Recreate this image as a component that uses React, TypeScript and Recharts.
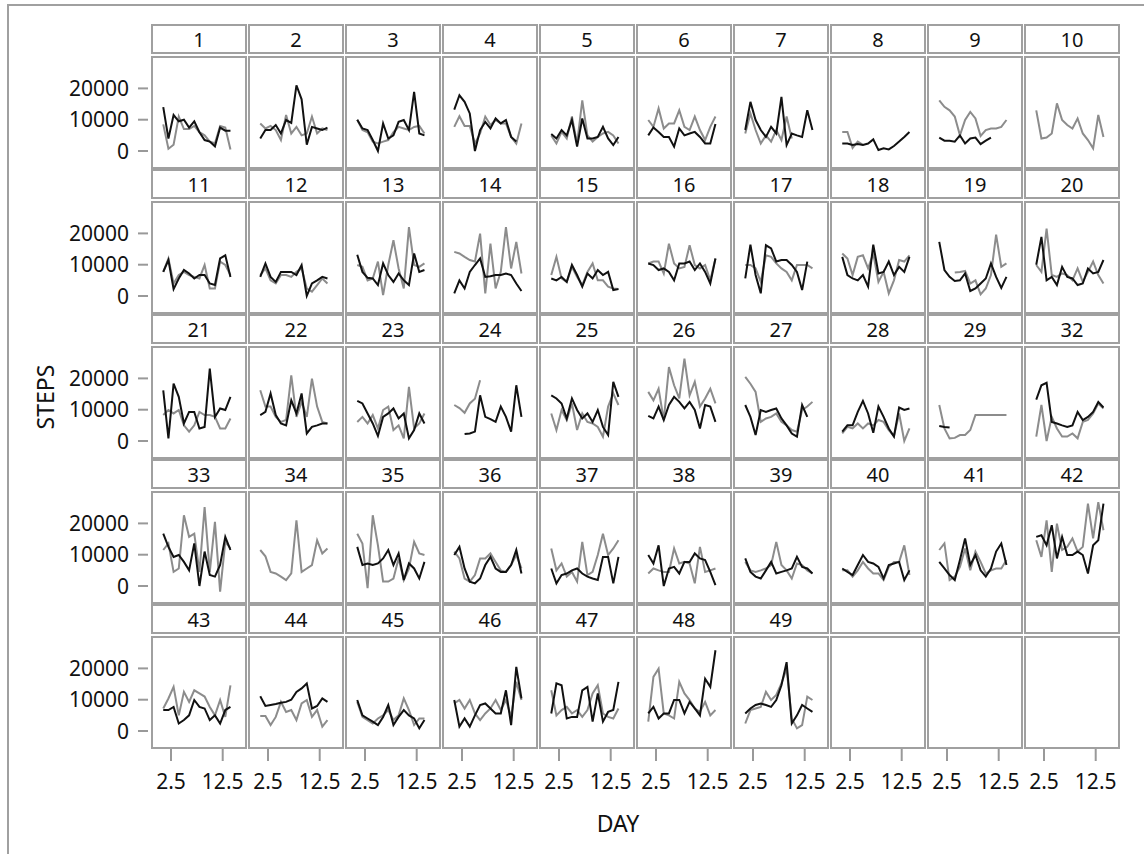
import React from "react";
import { LineChart, Line, XAxis, YAxis } from "recharts";

const subjects: number[] = [
  1, 2, 3, 4, 5, 6, 7, 8, 9, 10,
  11, 12, 13, 14, 15, 16, 17, 18, 19, 20,
  21, 22, 23, 24, 25, 26, 27, 28, 29, 32,
  33, 34, 35, 36, 37, 38, 39, 40, 41, 42,
  43, 44, 45, 46, 47, 48, 49,
];

const days: number[] = [1, 2, 3, 4, 5, 6, 7, 8, 9, 10, 11, 12, 13, 14];

const n = null;

// black series, one row per subject (in subject order)
const blackSteps: (number | null)[][] = [
  [14000, 4000, 11500, 9500, 10000, 7500, 9500, 6000, 3500, 3000, 1500, 7500, 6500, 6500],
  [4000, 6700, 6700, 8300, 5600, 9900, 9000, 21000, 16500, 2000, 7700, 7200, 6700, 7500],
  [10000, 7200, 6700, 3500, 0, 8800, 4000, 5000, 9300, 9900, 6700, 18900, 5600, 5000],
  [13200, 17800, 15700, 12000, 0, 6700, 9300, 7200, 10400, 8800, 9900, 4500, 3000, n],
  [5400, 4000, 6700, 5000, 9900, 1400, 10400, 4000, 4000, 4500, 7700, 4000, 1900, 4500],
  [5000, 7500, 6100, 4500, 4500, 1400, 7200, 5000, 5600, 6100, 4500, 2400, 2400, 8600],
  [6700, 15700, 9900, 6700, 4500, 7700, 5600, 17300, 1900, 5600, 5000, 4500, 13000, 6700],
  [2400, 2400, 1900, 2200, 1900, 2400, 3700, 300, 850, 500, 1600, 3000, 4500, 6100],
  [4300, 3300, 3300, 3000, 5000, 2400, 4000, 4300, 2200, 3300, 4300, n, n, n],
  [n, n, n, n, n, n, n, n, n, n, n, n, n, n],
  [7700, 11500, 2200, 5600, 8300, 7200, 5600, 6700, 6700, 4000, 3500, 12000, 13000, 6100],
  [6100, 10400, 6100, 4500, 7700, 7700, 7700, 6700, 9900, 0, 4000, 5000, 6100, 5600],
  [13200, 7700, 5800, 5600, 3500, 10400, 6700, 4500, 7200, 5000, 3500, 13600, 7700, 8300],
  [850, 5000, 2400, 7700, 9900, 12000, 6100, 6300, 6700, 6700, 7200, 6700, 4000, 1600],
  [5600, 5000, 6100, 4500, 9900, 6700, 3000, 7200, 5600, 8300, 6700, 7700, 1900, 2200],
  [10400, 9900, 8300, 8800, 7700, 5000, 10400, 10400, 11000, 8300, 10400, 7700, 4000, 12000],
  [5600, 16400, 6700, 850, 16200, 15200, 11000, 11500, 11500, 9900, 7700, 1900, 11000, n],
  [12500, 6700, 5600, 5000, 6700, 3000, 16400, 7200, 7700, 11000, 6700, 9300, 7700, 12500],
  [17300, 8300, 6100, 4800, 5000, 7200, 1600, 2400, 4000, 5600, 10400, 6100, 2600, 6100],
  [10000, 18900, 5000, 6100, 3500, 9300, 6100, 5600, 3500, 4000, 8800, 7200, 7700, 11500],
  [16200, 850, 18300, 14100, 5600, 9300, 9300, 4000, 4500, 23100, 7700, 10400, 9900, 14100],
  [8300, 9300, 15200, 8300, 5600, 5000, 13000, 8800, 15200, 2400, 4500, 5000, 5600, 5600],
  [12800, 12000, 8800, 5600, 1600, 7700, 8800, 10400, 7200, 8800, 850, 3500, 8800, 5600],
  [n, n, 2200, 2400, 3000, 14600, 7700, 7000, 6100, 11000, 7700, 3000, 17800, 7700],
  [14600, 13600, 12000, 7200, 13600, 9900, 7200, 8800, 6100, 9900, 4500, 1900, 18900, 14100],
  [8000, 7200, 11000, 6700, 11500, 14100, 12500, 10400, 12500, 9900, 4000, 11500, 11000, 6100],
  [11500, 7700, 1900, 9900, 9300, 9900, 10400, 7200, 5000, 2400, 1400, 11500, 7700, n],
  [3000, 5000, 5000, 9300, 12800, 8800, 2600, 11000, 7700, 4000, 1400, 10700, 9900, 10400],
  [4800, 4500, 4300, n, n, n, n, n, n, n, n, n, n, n],
  [13200, 17800, 18600, 6100, 5600, 5000, 4500, 5000, 9300, 6700, 7700, 9300, 12500, 10700],
  [16700, 12500, 9300, 9900, 7700, 5000, 13600, 0, 11000, 3500, 3000, 6700, 15700, 11500],
  [n, n, n, n, n, n, n, n, n, n, n, n, n, n],
  [12500, 6700, 7200, 6700, 7200, 8800, 11500, 6700, 10400, 1900, 7200, 5600, 2400, 7700],
  [9900, 12500, 5600, 1400, 850, 2400, 6700, 9300, 5600, 4500, 4500, 6700, 11500, 4000],
  [5600, 850, 3500, 4000, 5000, 5600, 4000, 3000, 2400, 1900, 9300, 9300, 850, 9300],
  [9900, 7200, 13000, 0, 5600, 6100, 4000, 7700, 7700, 10400, 8800, 8300, 4500, 300],
  [8800, 4500, 3000, 2400, 5000, 7700, 4000, 4500, 5000, 5600, 9300, 6100, 5600, 4000],
  [5600, 4500, 3500, 6700, 9900, 7700, 7200, 6100, 2400, 6700, 7200, 7700, 1900, 5000],
  [7700, 5600, 3500, 1900, 8300, 15200, 6700, 9900, 5000, 3000, 5600, 11000, 13600, 6700],
  [15700, 16200, 13000, 19400, 8800, 15700, 9900, 9900, 11000, 9900, 4000, 13000, 14600, 26300],
  [6700, 6700, 7700, 2400, 3500, 5000, 9900, 7700, 7200, 3500, 5000, 2400, 6700, 7700],
  [11100, 8000, 8300, 8600, 9000, 9300, 10000, 12500, 13600, 15200, 7200, 8000, 10400, 9300],
  [9900, 5000, 4000, 3000, 1900, 4500, 8300, 1900, 4500, 6700, 5000, 4000, 850, 3500],
  [9900, 1400, 4000, 1400, 5000, 8300, 8800, 7200, 5600, 5600, 13000, 1900, 20500, 10400],
  [5600, 15200, 14600, 4000, 4500, 4500, 13000, 14100, 3000, 12000, 3000, 6100, 6700, 15700],
  [5600, 7700, 4000, 5600, 5600, 9900, 9900, 5600, 9300, 7200, 5000, 16700, 14100, 25800],
  [5600, 7200, 8300, 8800, 8300, 7700, 9900, 14600, 22000, 2400, 5000, 8300, 7200, 6100],
];

// gray series, one row per subject (in subject order)
const graySteps: (number | null)[][] = [
  [8500, 700, 2000, 11000, 7000, 7000, 8000, 6000, 5000, 3000, 2500, 8000, 7500, 500],
  [8800, 7200, 8000, 6700, 3500, 11500, 5600, 7700, 5000, 5600, 11000, 5600, 7200, 6700],
  [10000, 6700, 6000, 3000, 2400, 3000, 3500, 6000, 7700, 7200, 6700, 7700, 8000, 5600],
  [7700, 11100, 8000, 8000, 2400, 5600, 11000, 8300, 9900, 8800, 8800, 4500, 2400, 8800],
  [5000, 2400, 6100, 4000, 11000, 2400, 16200, 5000, 3000, 4500, 5600, 6100, 5000, 2400],
  [9900, 7700, 13600, 7200, 8800, 8800, 13000, 7700, 6700, 11000, 6700, 3500, 7700, 11000],
  [5600, 12000, 6700, 2400, 5000, 3000, 6700, 3500, 11000, 4000, n, n, n, n],
  [6100, 6100, 1000, 3000, 2000, n, n, n, n, n, n, n, n, n],
  [16200, 14100, 13000, 11000, 5000, 9900, 12500, 10400, 4800, 6700, 7200, 7200, 7700, 9900],
  [13000, 4000, 4300, 5600, 15200, 9900, 8300, 7200, 10400, 5600, 3500, 850, 11500, 4500],
  [7700, 12000, 4000, 6700, 7700, 6700, 6100, 5600, 9900, 2400, 2400, 11000, 9900, 6700],
  [6700, 8800, 5000, 4000, 6700, 6700, 6100, 7700, 8800, 2400, 1400, 3500, 5600, 4000],
  [9900, 9300, 5000, 5600, 11000, 300, 9900, 17800, 8800, 2400, 22000, 9900, 9300, 10400],
  [14100, 13600, 12500, 11500, 11000, 19900, 850, 16700, 2400, 7700, 22000, 8800, 17300, 7200],
  [6700, 12500, 5600, 4500, 9300, 6100, 3500, 7700, 10400, 5000, 5000, 3000, 2400, 2200],
  [10400, 11000, 11000, 7200, 16700, 10400, 8800, 9300, 16200, 9900, 8800, 9900, 5000, 12000],
  [9900, 9900, 8800, 4500, 13000, 12500, 10400, 8800, 7700, 5000, 9900, 9900, 9900, 8800],
  [13600, 12000, 6700, 12500, 13000, 8800, 13600, 4500, 7700, 850, 5000, 11500, 11000, 13000],
  [n, n, n, 7500, 7700, 8000, 4000, 5000, 500, 2400, 6700, 19600, 9300, 10400],
  [9900, 7700, 21500, 6700, 6100, 7200, 6700, 5000, 8800, 4500, 7700, 11000, 6700, 4000],
  [8300, 9900, 8800, 9900, 5000, 3000, 5000, 9300, 8300, 8300, 7700, 4000, 4000, 7200],
  [16200, 11000, 11000, 7700, 6100, 6700, 21000, 7700, 12500, 7700, 19900, 11000, 6100, 5600],
  [6100, 7700, 5600, 8300, 4000, 9900, 11000, 3500, 5000, 850, 17300, 4000, 5600, 8800],
  [11500, 10500, 9000, 12000, 13500, 19400, n, n, n, n, n, n, n, n],
  [8800, 3500, 9900, 6700, 12000, 3500, 8800, 6100, 5600, 4500, 1400, 11000, 15200, 11500],
  [15700, 13000, 16700, 6700, 23600, 17800, 13600, 26300, 14600, 18900, 11000, 13600, 16700, 12000],
  [20500, 18300, 15700, 6100, 7200, 7700, 8800, 6100, 5000, 3500, 3000, 9900, 11000, 12500],
  [2400, 4500, 4000, 5600, 4000, 5600, 5000, 6700, 6100, 3500, 1600, 8800, 0, 4000],
  [11500, 4000, 850, 1000, 1900, 1900, 3500, 8300, 8300, 8300, 8300, 8300, 8300, 8300],
  [1400, 11500, 0, 7700, 4000, 1400, 1400, 2400, 850, 6100, 6700, 8800, 12000, 10400],
  [11500, 13600, 4500, 5600, 22600, 15700, 16700, 4500, 25200, 4500, 20500, -1800, 14100, 12000],
  [11500, 9500, 4500, 4000, 3000, 1900, 4000, 21000, 4500, 5600, 6700, 14600, 10400, 12000],
  [16700, 13600, -700, 22600, 13000, 1400, 1400, 2400, 8800, 1900, 5600, 14100, 10400, 9900],
  [11000, 8800, 2400, 1400, 3500, 8800, 8800, 10400, 7700, 5000, 4500, 6700, 9900, 5600],
  [12000, 5000, 7200, 3000, 4500, 1400, 14100, 3500, 4500, 9900, 16700, 9900, 12000, 14600],
  [4000, 5600, 5000, 4500, 4500, 12000, 7200, 7700, 7200, 850, 12500, 4500, 5000, 5600],
  [7700, 5000, 4500, 5000, 5600, 6700, 14100, 6700, 5000, 2400, 7200, 6700, 5000, 4000],
  [5000, 5000, 3000, 5000, 7700, 5600, 4000, 4000, 1900, 6100, 7700, 7700, 13000, 3500],
  [11500, 13600, 1900, 3000, 6100, 12000, 5000, 11000, 7700, 4000, 5000, 5600, 5600, 8300],
  [14600, 9300, 21000, 4500, 19900, 11500, 12500, 15200, 11000, 12500, 26300, 15200, 26800, 17800],
  [7200, 10400, 14100, 5000, 12500, 9300, 13000, 12000, 11000, 7700, 5000, 9900, 4500, 14600],
  [4800, 4800, 1900, 4500, 9300, 6100, 6700, 3500, 8800, 9900, 4500, 6700, 1400, 3500],
  [9300, 4500, 3500, 2400, 4000, 5000, 6700, 3500, 5000, 10400, 6700, 1900, 4000, 4000],
  [8800, 9900, 7200, 9900, 5600, 3500, 5600, 7200, 9900, 6700, 9900, 4500, 15700, 9900],
  [13000, 5000, 6700, 7700, 5600, 6700, 4500, 6700, 12000, 14600, 5600, 4500, 4000, 7200],
  [3000, 17300, 19900, 5600, 5000, 4000, 15700, 12000, 9900, 7200, 6100, 9300, 5000, 6700],
  [2400, 6700, 7200, 7700, 12500, 9900, 11500, 15200, 19900, 4000, 850, 1900, 11000, 9900],
];

const yTicks: number[] = [0, 10000, 20000];
const xTicks: number[] = [2.5, 12.5];

const N_COLS = 10;
const N_ROWS = 5;
const X0 = 151;
const PX = 97;
const BOX_W = 96;
const HEAD_TOP = 24;
const HEAD_H = 30;
const BODY_TOP = 56;
const BODY_H = 113;
const PY = 145;
const Y_AXIS_W = 151;
const X_AXIS_H = 60;
const X_DOMAIN: [number, number] = [-1.37, 17.2];
const Y_DOMAIN: [number, number] = [-5750, 30350];
const FONT = '"Noto Sans", "Open Sans", sans-serif';
const BORDER = "#a0a0a0";
const TEXT = "#111111";

function YTick(props: any) {
  const { x, y, payload } = props;
  return (
    <g>
      <line x1={x - 13} x2={x - 3} y1={y} y2={y} stroke="#999999" strokeWidth={2} />
      <text x={x - 22} y={y} dy="0.36em" textAnchor="end" fontSize={21} fill={TEXT} fontFamily={FONT}>
        {payload.value}
      </text>
    </g>
  );
}

function XTick(props: any) {
  const { x, y, payload } = props;
  return (
    <g>
      <line x1={x} x2={x} y1={y} y2={y + 12} stroke="#999999" strokeWidth={2} />
      <text x={x} y={y + 40} textAnchor="middle" fontSize={21} fill={TEXT} fontFamily={FONT}>
        {payload.value}
      </text>
    </g>
  );
}

function Panel({ r, c }: { r: number; c: number }) {
  const idx = r * N_COLS + c;
  const has = idx < subjects.length;
  const left = X0 + c * PX;
  const top = BODY_TOP + r * PY;
  const hasY = c === 0;
  const hasX = r === N_ROWS - 1;
  const data = days.map((d, i) => ({
    day: d,
    black: has ? blackSteps[idx][i] : null,
    gray: has ? graySteps[idx][i] : null,
  }));
  const w = BOX_W + (hasY ? Y_AXIS_W : 0);
  const h = BODY_H + (hasX ? X_AXIS_H : 0);
  return (
    <>
      <div
        style={{
          position: "absolute",
          left,
          top: HEAD_TOP + r * PY,
          width: BOX_W,
          height: HEAD_H,
          border: `2px solid ${BORDER}`,
          boxSizing: "border-box",
          textAlign: "center",
          lineHeight: `${HEAD_H - 2}px`,
          fontSize: 20,
          color: TEXT,
          fontFamily: FONT,
        }}
      >
        {has ? String(subjects[idx]) : ""}
      </div>
      <div
        style={{
          position: "absolute",
          left,
          top,
          width: BOX_W,
          height: BODY_H,
          border: `2px solid ${BORDER}`,
          boxSizing: "border-box",
        }}
      />
      <div style={{ position: "absolute", left: left - (hasY ? Y_AXIS_W : 0), top }}>
        <LineChart width={w} height={h} data={data} margin={{ top: 0, right: 0, bottom: 0, left: 0 }}>
          <XAxis
            type="number"
            dataKey="day"
            domain={X_DOMAIN}
            ticks={xTicks}
            interval={0}
            allowDataOverflow
            hide={!hasX}
            height={X_AXIS_H}
            tickSize={0}
            tickMargin={0}
            tickLine={false}
            axisLine={false}
            tick={(p: any) => <XTick {...p} />}
          />
          <YAxis
            type="number"
            domain={Y_DOMAIN}
            ticks={yTicks}
            interval={0}
            allowDataOverflow
            hide={!hasY}
            width={Y_AXIS_W}
            tickSize={0}
            tickMargin={0}
            tickLine={false}
            axisLine={false}
            tick={(p: any) => <YTick {...p} />}
          />
          <Line dataKey="gray" stroke="#8c8c8c" strokeWidth={2} dot={false} isAnimationActive={false} />
          <Line dataKey="black" stroke="#111111" strokeWidth={2} dot={false} isAnimationActive={false} />
        </LineChart>
      </div>
    </>
  );
}

export default function App() {
  const cells: React.ReactNode[] = [];
  for (let r = 0; r < N_ROWS; r++) {
    for (let c = 0; c < N_COLS; c++) {
      cells.push(<Panel key={`${r}-${c}`} r={r} c={c} />);
    }
  }
  return (
    <div
      style={{
        position: "absolute",
        left: 0,
        top: 0,
        width: 1144,
        height: 854,
        overflow: "hidden",
        background: "#ffffff",
        fontFamily: FONT,
      }}
    >
      <div
        style={{
          position: "absolute",
          left: 7,
          top: 4,
          width: 1200,
          height: 900,
          border: `2px solid ${BORDER}`,
          boxSizing: "border-box",
        }}
      />
      {cells}
      <div
        style={{
          position: "absolute",
          left: 45,
          top: 397,
          transform: "translate(-50%, -50%) rotate(-90deg)",
          fontSize: 23,
          color: TEXT,
          whiteSpace: "nowrap",
        }}
      >
        STEPS
      </div>
      <div
        style={{
          position: "absolute",
          left: 618,
          top: 823,
          transform: "translate(-50%, -50%)",
          fontSize: 23,
          color: TEXT,
          whiteSpace: "nowrap",
        }}
      >
        DAY
      </div>
    </div>
  );
}
